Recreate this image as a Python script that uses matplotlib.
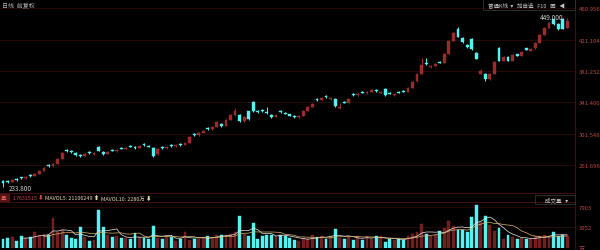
import matplotlib
matplotlib.use("Agg")
import matplotlib.pyplot as plt
import numpy as np

plt.rcParams['font.family'] = ['Noto Sans CJK SC', 'DejaVu Sans']

opens = [241.0, 241.5, 240.5, 244.0, 246.0, 245.0, 249.0, 248.0, 250.5, 254.5,
         262.0, 260.0, 263.5, 269.5, 281.0, 280.0, 277.5, 275.0, 273.5, 278.5,
         275.5, 285.0, 278.0, 276.0, 281.0, 279.0, 283.5, 281.5, 286.0, 285.0,
         283.5, 289.0, 286.5, 283.3, 276.0, 284.5, 283.0, 287.0, 285.5, 288.5,
         287.5, 290.0, 301.5, 299.5, 302.5, 309.0, 307.0, 310.5, 314.0, 311.5,
         319.0, 325.0, 325.0, 318.0, 330.0, 341.5, 331.0, 332.0, 329.5, 325.0,
         323.0, 331.0, 328.0, 326.0, 324.5, 322.5, 324.5, 330.5, 335.5, 346.0,
         344.5, 349.5, 345.5, 346.0, 334.0, 342.0, 341.0, 352.0, 350.5, 354.5,
         353.0, 355.0, 357.5, 353.5, 358.5, 353.5, 350.5, 355.0, 356.0, 355.0,
         360.0, 368.0, 378.0, 392.0, 386.0, 388.0, 393.0, 392.0, 403.5, 420.0,
         435.0, 423.0, 415.0, 422.0, 404.0, 378.0, 378.0, 371.5, 378.0, 411.0,
         394.5, 399.0, 394.5, 402.5, 401.0, 410.0, 407.0, 410.0, 417.5, 427.5,
         436.5, 447.0, 441.0, 447.6, 436.0]
closes = [238.8, 240.1, 242.6, 242.6, 245.2, 246.4, 247.7, 250.2, 254.1, 257.9,
          260.4, 263.0, 269.3, 277.0, 279.5, 278.2, 274.4, 273.2, 275.7, 277.0,
          277.0, 279.5, 275.7, 278.2, 279.5, 280.8, 282.1, 283.3, 284.6, 283.3,
          285.9, 287.2, 284.6, 273.2, 282.1, 283.3, 284.6, 285.9, 287.2, 287.2,
          289.7, 297.3, 299.9, 302.4, 305.0, 307.5, 310.1, 316.4, 311.3, 319.0,
          325.3, 330.4, 317.7, 322.8, 320.3, 330.4, 329.2, 330.4, 327.9, 322.8,
          325.3, 329.2, 326.6, 324.1, 322.8, 324.1, 330.4, 335.5, 339.4, 344.4,
          347.0, 348.3, 347.0, 336.8, 335.5, 340.6, 345.7, 350.8, 352.1, 353.4,
          354.6, 357.2, 355.9, 354.6, 350.8, 352.1, 352.1, 353.4, 354.6, 359.7,
          367.4, 377.5, 389.0, 390.3, 387.7, 390.3, 391.5, 403.0, 419.6, 429.7,
          424.6, 418.3, 411.9, 409.4, 396.6, 381.4, 371.2, 377.5, 392.8, 394.1,
          399.2, 394.1, 401.7, 400.5, 405.5, 408.1, 409.4, 417.0, 427.2, 436.1,
          442.5, 441.2, 434.8, 434.8, 445.0]
highs = [242.0, 242.5, 243.5, 245.0, 247.0, 247.5, 250.0, 251.0, 255.0, 259.0,
         263.0, 264.0, 270.5, 278.5, 282.0, 281.0, 278.5, 276.0, 276.5, 279.5,
         278.0, 286.0, 279.0, 279.0, 282.0, 282.0, 284.5, 284.0, 287.0, 286.0,
         287.0, 290.0, 287.5, 284.0, 283.0, 285.5, 285.5, 288.0, 288.0, 289.5,
         290.5, 298.5, 302.5, 303.5, 306.0, 310.0, 311.0, 317.5, 315.0, 320.0,
         326.5, 334.0, 327.0, 324.0, 331.0, 343.0, 332.0, 333.0, 335.0, 326.0,
         326.0, 332.0, 329.0, 327.0, 325.5, 325.0, 331.5, 336.5, 340.5, 347.0,
         348.0, 350.5, 348.0, 347.0, 340.0, 343.0, 346.5, 353.0, 353.0, 355.5,
         355.5, 358.0, 358.5, 355.5, 360.0, 354.5, 353.0, 356.0, 357.0, 360.5,
         368.5, 378.5, 398.0, 398.0, 389.0, 391.0, 394.0, 404.0, 421.0, 431.0,
         437.0, 424.0, 416.0, 423.0, 405.5, 384.0, 379.0, 379.0, 394.0, 412.0,
         400.5, 400.0, 402.5, 403.5, 406.5, 411.0, 410.5, 418.0, 428.5, 437.0,
         443.5, 448.0, 442.0, 448.5, 449.0]
lows = [233.8, 239.0, 240.0, 241.5, 244.0, 244.5, 247.0, 247.5, 250.0, 253.5,
        259.5, 259.5, 263.0, 269.0, 278.5, 277.5, 273.5, 272.0, 273.0, 276.0,
        275.0, 279.0, 275.0, 275.5, 279.0, 278.5, 281.5, 281.0, 284.0, 282.5,
        283.0, 286.5, 284.0, 272.5, 275.0, 282.5, 282.5, 285.0, 285.0, 286.5,
        287.0, 289.5, 299.0, 299.0, 302.0, 306.5, 306.5, 310.0, 310.5, 311.0,
        318.5, 324.5, 316.5, 317.0, 319.0, 329.5, 328.5, 329.5, 327.0, 322.0,
        322.5, 328.5, 326.0, 323.5, 322.0, 322.0, 324.0, 330.0, 335.0, 343.5,
        344.0, 347.5, 345.0, 336.0, 333.0, 340.0, 340.5, 350.0, 350.0, 353.0,
        352.5, 354.5, 355.0, 353.0, 350.0, 351.5, 350.0, 353.0, 354.0, 354.5,
        359.5, 367.5, 377.5, 389.0, 385.5, 387.5, 391.0, 391.5, 403.0, 419.5,
        424.0, 417.5, 411.0, 408.5, 396.0, 377.0, 368.0, 370.5, 377.5, 393.5,
        394.0, 393.5, 394.0, 400.0, 400.5, 407.5, 406.5, 409.5, 417.0, 427.0,
        436.0, 440.5, 434.0, 434.5, 435.5]
volumes = [1734, 1863, 2056, 1413, 2377, 1863, 2056, 3148, 2377, 2698,
           2505, 5716, 3020, 3533, 2505, 1863, 1734, 3982, 2056, 1413,
           1606, 7387, 3982, 2505, 2056, 2377, 1863, 1863, 1734, 2891,
           2056, 1863, 1734, 4175, 1863, 1734, 2377, 2056, 1413, 1734,
           3148, 1606, 1734, 1734, 2056, 2248, 2056, 2505, 2505, 2505,
           2698, 3020, 6102, 2698, 2377, 4817, 1734, 2377, 2505, 2505,
           2377, 2505, 2377, 1863, 1606, 1413, 1863, 1734, 2505, 2056,
           2377, 1734, 2377, 3661, 1863, 1734, 2056, 1606, 2377, 1606,
           2248, 1734, 2248, 2377, 1220, 1734, 1606, 1734, 1606, 2377,
           2698, 3020, 4625, 2698, 2377, 2505, 3340, 3790, 5266, 4175,
           3533, 3533, 3020, 5909, 8286, 4945, 6230, 4432, 3340, 3790,
           1734, 2505, 2056, 1734, 1863, 1734, 1734, 2248, 2377, 2505,
           2377, 3020, 2377, 2505, 2377]

price_ticks = [460.956, 421.104, 381.252, 341.400, 301.548, 261.696]
price_labels = ["460.956", "421.104", "381.252", "341.400", "301.548", "261.696"]
vol_ticks = [7903, 3952]
vol_labels = ["7903", "3952"]

RED = '#9a2c2c'
CYAN = '#56f2f2'
GRID = '#2c0909'
LBL = '#b84545'

o = np.array(opens); c = np.array(closes); h = np.array(highs); l = np.array(lows)
v = np.array(volumes, dtype=float)
n = len(c)
x = np.arange(n)
up = c >= o
cols = np.where(up, RED, CYAN)

fig = plt.figure(figsize=(6.0, 2.51), dpi=100, facecolor='black')
W, H = 600.0, 251.0
ax = fig.add_axes([0, (H - 196) / H, 575 / W, 196 / H], facecolor='black')
axv = fig.add_axes([0, (H - 249) / H, 575 / W, 46 / H], facecolor='black')

xlim = (-3 / 4.55, (575 - 3) / 4.55)
# main price panel
ax.set_xlim(*xlim)
ax.set_ylim(223.5, 473.0)
for t in price_ticks:
    ax.axhline(t, color=GRID, lw=0.6, zorder=0)
ax.vlines(x, l, h, colors=cols, lw=0.7, zorder=2)
body_b = np.minimum(o, c)
body_h = np.maximum(np.abs(c - o), 0.8)
ax.bar(x, body_h, bottom=body_b, width=0.62, color=cols, edgecolor=cols, lw=0.3, zorder=3)

ax.yaxis.tick_right()
ax.set_yticks(price_ticks)
ax.set_yticklabels(price_labels, color=LBL, fontsize=4.3)
ax.tick_params(axis='y', length=0, pad=2.5)
ax.set_xticks([])
for s in ['top', 'left', 'bottom']:
    ax.spines[s].set_visible(False)
ax.spines['right'].set_color('#3e0f0f')
ax.spines['right'].set_linewidth(0.8)

# min / max annotations
imin = int(np.argmin(l)); imax = int(np.argmax(h))
ax.annotate(f"{l[imin]:.3f}", xy=(imin, l[imin]), xytext=(imin + 1.2, l[imin] - 1.5),
            color='#cfcfcf', fontsize=4.6, va='center', ha='left')
ax.annotate(f"{h[imax]:.3f}", xy=(imax, h[imax]), xytext=(imax - 0.8, h[imax] + 0.5),
            color='#cfcfcf', fontsize=4.6, va='center', ha='right')

# header texts
fig.text(2 / W, 1 - 5 / H, "日线  前复权", color='#b8b8b8', fontsize=4.3, va='center', ha='left')
fig.text(488 / W, 1 - 5 / H, "普通K线  ▾   加自选   F10   画   ◀", color='#c8c8c8',
         fontsize=4.0, va='center', ha='left', family=['Noto Sans CJK SC', 'DejaVu Sans'])
fig.add_artist(plt.Rectangle((483 / W, 1 - 11 / H), 92 / W, 11 / H, transform=fig.transFigure,
                             fill=False, edgecolor='#333333', lw=0.6))

# volume panel
axv.set_xlim(*xlim)
axv.set_ylim(0, 8864)
axv.bar(x, v, width=0.62, color=np.where(up, '#6e1e1e', CYAN), edgecolor=np.where(up, '#8a2828', CYAN),
        lw=0.3, zorder=2)
ma5 = np.convolve(v, np.ones(5) / 5, mode='valid')
ma10 = np.convolve(v, np.ones(10) / 10, mode='valid')
axv.plot(x[4:], ma5, color='#e8e8e8', lw=0.5, zorder=3)
axv.plot(x[9:], ma10, color='#d8b870', lw=0.5, zorder=3)
for t in vol_ticks:
    axv.axhline(t, color=GRID, lw=0.6, zorder=0)
axv.yaxis.tick_right()
axv.set_yticks(vol_ticks + [0])
axv.set_yticklabels(vol_labels + ["万"], color=LBL, fontsize=4.3)
axv.tick_params(axis='y', length=0, pad=2.5)
axv.set_xticks([])
for s in ['left', 'bottom']:
    axv.spines[s].set_visible(False)
axv.spines['top'].set_color('#3e0f0f')
axv.spines['right'].set_color('#3e0f0f')
axv.spines['top'].set_linewidth(0.8)
axv.spines['right'].set_linewidth(0.8)

# volume header
fig.add_artist(plt.Line2D([0, 575 / W], [1 - 194 / H, 1 - 194 / H], transform=fig.transFigure,
                          color='#3e0f0f', lw=0.8))
fig.add_artist(plt.Rectangle((0, 1 - 203 / H), 10 / W, 8 / H, transform=fig.transFigure,
                             facecolor='#5a1414', edgecolor='none'))
fig.text(1 / W, 1 - 199 / H, "量", color='#e06060', fontsize=4.0, va='center', ha='left')
fig.text(13 / W, 1 - 199 / H, "17631515 ⬇", color='#c04848', fontsize=3.9, va='center', ha='left')
fig.text(45 / W, 1 - 199 / H, "MAVOL5: 21106249 ⬆", color='#e0d8b0', fontsize=3.9, va='center', ha='left')
fig.text(101 / W, 1 - 199 / H, "MAVOL10: 2280万 ⬇", color='#e0d8b0', fontsize=3.9, va='center', ha='left')
fig.add_artist(plt.Rectangle((535 / W, 1 - 205 / H), 40 / W, 9 / H, transform=fig.transFigure,
                             fill=False, edgecolor='#333333', lw=0.6))
fig.text(545 / W, 1 - 200.5 / H, "成交量   ▾", color='#c8c8c8', fontsize=4.0, va='center', ha='left')

fig.savefig("out.png", dpi=100, facecolor='black')
